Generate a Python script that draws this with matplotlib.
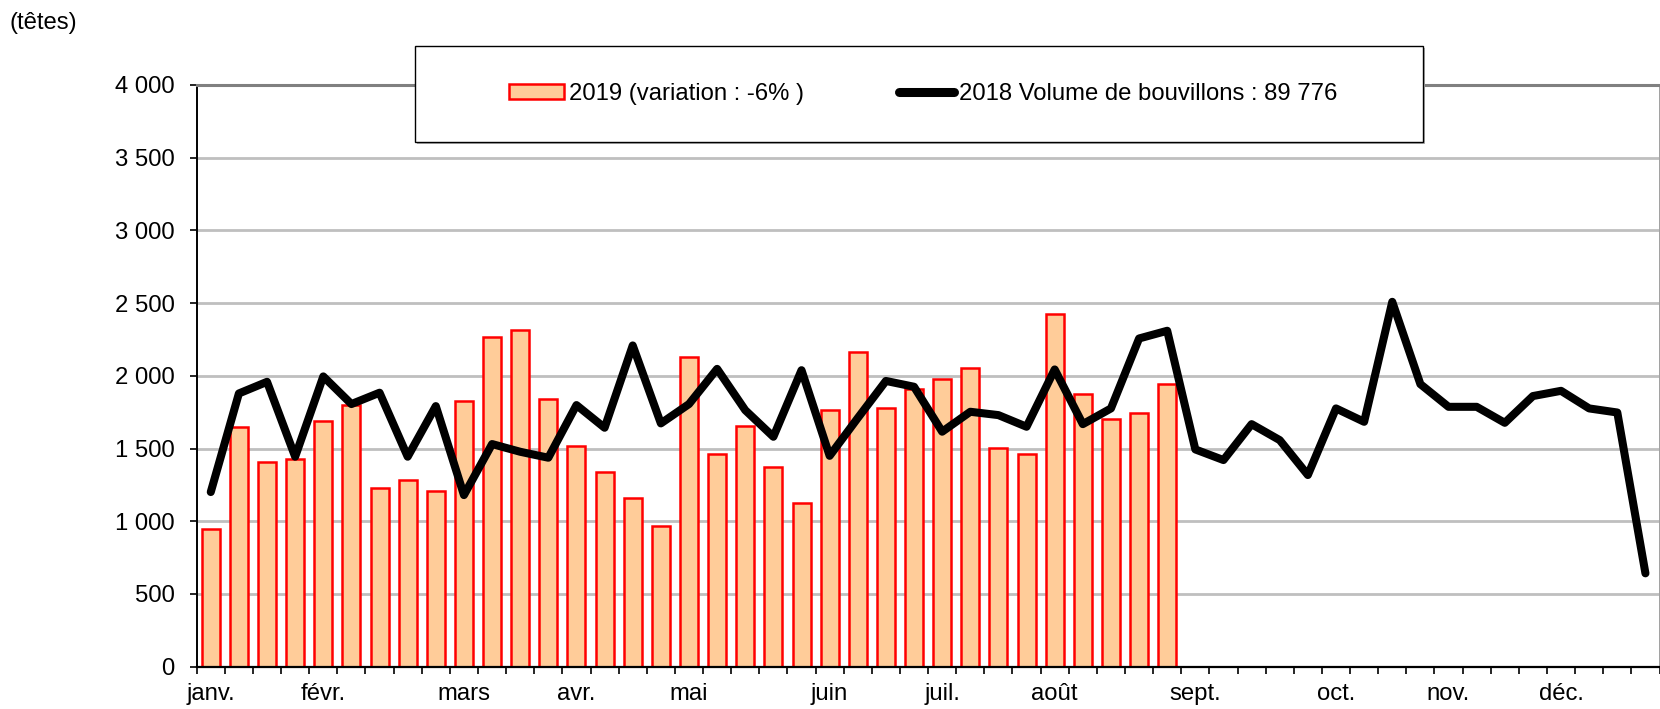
import matplotlib
matplotlib.use("Agg")
import matplotlib.pyplot as plt
from matplotlib.patches import Rectangle, Patch
from matplotlib.lines import Line2D
from matplotlib.ticker import FixedLocator, FuncFormatter

plt.rcParams['font.family'] = ['Liberation Sans', 'DejaVu Sans']

semaines = list(range(1, 53))
volumes_2019 = [944, 1650, 1405, 1425, 1689, 1799, 1226, 1283, 1208, 1829, 2266, 2312,
                1842, 1519, 1336, 1157, 965, 2133, 1462, 1654, 1373, 1125, 1764, 2161,
                1780, 1913, 1978, 2053, 1501, 1460, 2422, 1872, 1703, 1742, 1941]
volumes_2018 = [1201, 1879, 1959, 1444, 1996, 1806, 1884, 1444, 1792, 1180, 1531, 1478,
                1437, 1799, 1643, 2209, 1673, 1806, 2048, 1764, 1581, 2039, 1450, 1710,
                1965, 1925, 1616, 1753, 1730, 1650, 2044, 1668, 1776, 2257, 2310, 1494,
                1421, 1668, 1558, 1318, 1776, 1684, 2509, 1943, 1787, 1787, 1677, 1861,
                1897, 1776, 1748, 642]
mois_labels = ['janv.', 'févr.', 'mars', 'avr.', 'mai', 'juin', 'juil.', 'août',
               'sept.', 'oct.', 'nov.', 'déc.']
mois_semaines = [1, 5, 10, 14, 18, 23, 27, 31, 36, 41, 45, 49]
y_ticks = [0, 500, 1000, 1500, 2000, 2500, 3000, 3500, 4000]
label_2019 = '2019 (variation : -6% )'
label_2018 = '2018 Volume de bouvillons : 89 776'

FS = 17.2
W, H = 1660, 709
fig = plt.figure(figsize=(W / 100, H / 100), dpi=100)
ax = fig.add_axes([196.7 / W, 1 - 666.7 / H, (1659.5 - 196.7) / W, (666.7 - 85) / H])

x19 = semaines[:len(volumes_2019)]
ax.bar(x19, volumes_2019, width=0.64, color='#FFCC99', edgecolor='#FF0000',
       linewidth=1.8, zorder=2)
ax.plot(semaines, volumes_2018, color='black', linewidth=5.8,
        solid_joinstyle='round', solid_capstyle='round', zorder=3)

ax.set_xlim(0.5, 52.5)
ax.set_ylim(0, 4000)
ax.yaxis.set_major_locator(FixedLocator(y_ticks))
ax.yaxis.set_major_formatter(FuncFormatter(lambda v, p: f"{int(v):,}".replace(',', ' ')))
ax.grid(axis='y', color='#bfbfbf', linewidth=2.0, zorder=0)
ax.set_axisbelow(True)

ax.set_xticks(mois_semaines)
ax.set_xticklabels(mois_labels)
ax.set_xticks([s + 0.5 for s in [0] + semaines], minor=True)
ax.tick_params(axis='x', which='major', length=0, pad=12, labelsize=FS)
ax.tick_params(axis='x', which='minor', length=5, width=1.2, direction='out')
ax.tick_params(axis='y', length=5, width=1.2, pad=11, labelsize=FS)

ax.spines['left'].set_color('black')
ax.spines['left'].set_linewidth(1.4)
ax.spines['bottom'].set_color('black')
ax.spines['bottom'].set_linewidth(1.6)
ax.spines['top'].set_color('#808080')
ax.spines['top'].set_linewidth(2.2)
ax.spines['right'].set_color('#a0a0a0')
ax.spines['right'].set_linewidth(1.4)

# legend box
shadow = Rectangle(((415 + 2) / W, 1 - (142 + 2) / H), 1008 / W, 96 / H,
                   transform=fig.transFigure, facecolor='#b0b0b0', edgecolor='none', zorder=4)
box = Rectangle((415 / W, 1 - 142 / H), 1008 / W, 96 / H,
                transform=fig.transFigure, facecolor='white', edgecolor='black',
                linewidth=1.0, zorder=4.5)
fig.patches.extend([shadow, box])

handles = [Patch(facecolor='#FFCC99', edgecolor='#FF0000', linewidth=1.8),
           Line2D([0], [0], color='black', linewidth=6.5, solid_capstyle='round')]
leg = fig.legend(handles, [label_2019, label_2018], loc='center',
                 bbox_to_anchor=(923 / W, 1 - 94 / H), ncol=2, frameon=False,
                 fontsize=FS, handlelength=2.3, handleheight=0.6, handletextpad=0.2,
                 columnspacing=4.0, borderpad=0, borderaxespad=0)
leg.set_zorder(6)

fig.text(9 / W, 1 - 22.5 / H, '(têtes)', ha='left', va='center', fontsize=FS)

fig.savefig('out.png', dpi=100)
